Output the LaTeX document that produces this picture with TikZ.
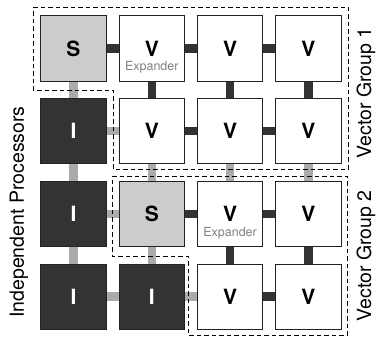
\documentclass[tikz,border=0pt]{standalone}
\usepackage{fontspec}
\setmainfont{TeX Gyre Heros}
\usetikzlibrary{backgrounds}

\definecolor{boxline}{HTML}{222222}
\definecolor{darklink}{HTML}{333333}
\definecolor{lightlink}{HTML}{ABABAB}
\definecolor{scalar}{HTML}{CCCCCC}

\tikzset{
 cell/.style={draw=boxline, line width=1pt, minimum width=65.5pt, minimum height=65pt,
  inner sep=0pt, font=\fontsize{21}{24}\selectfont\bfseries},
 cellS/.style={cell, fill=scalar},
 cellV/.style={cell, fill=white},
 cellI/.style={cell, fill=darklink, text=white},
 expander/.style={text=black!50, font=\fontsize{12.5}{14}\selectfont},
 dlink/.style={darklink, line width=8.5pt},
 llink/.style={lightlink, line width=8.5pt},
 group/.style={black, line width=0.9pt, dash pattern=on 4.5pt off 3pt},
 side/.style={rotate=90, font=\fontsize{19.5}{22}\selectfont}
}

\begin{document}
\begin{tikzpicture}[x=1pt,y=-1pt]
\useasboundingbox (0,0) rectangle (380,337);

\foreach \t [count=\i from 0] in {S,V,V,V,I,V,V,V,I,S,V,V,I,I,V,V} {
 \pgfmathtruncatemacro\r{\i/4}
 \pgfmathtruncatemacro\c{mod(\i,4)}
 \node[cell\t] (n\r\c) at ({73.5+78.3*\c},{48.5+82.7*\r}) {\t};
}

\node[expander] (ex01) at ([yshift=-19pt]n01.center) {Expander};
\node[expander] (ex22) at ([yshift=-19pt]n22.center) {Expander};

\begin{pgfonlayer}{background}
\fill[white] (0,0) rectangle (380,337);
\foreach \a/\b in {00/01,01/02,02/03,11/12,12/13,21/22,22/23,32/33,01/11,02/12,03/13,22/32,23/33}
 \draw[dlink] (n\a.center) -- (n\b.center);
\foreach \a/\b in {10/11,20/21,30/31,31/32,00/10,10/20,20/30,11/21,21/31,12/22,13/23}
 \draw[llink] (n\a.center) -- (n\b.center);
\end{pgfonlayer}

\draw[group] (33,7) -- (348,7) -- (348,169) -- (113,169) -- (113,90) -- (33,90) -- cycle;
\draw[group] (112,176) -- (347,176) -- (347,335) -- (188,335) -- (188,256) -- (112,256) -- cycle;

\node[side] (vg1) at (366,93) {Vector Group 1};
\node[side] (vg2) at (366,256) {Vector Group 2};
\node[side] (ip) at (19,212) {Independent Processors};
\end{tikzpicture}
\end{document}
